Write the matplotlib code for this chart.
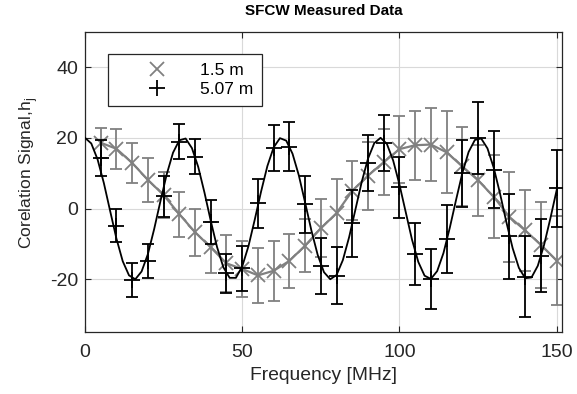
import numpy as np
import matplotlib
matplotlib.use("Agg")
import matplotlib.pyplot as plt

plt.rcParams["font.family"] = ["Liberation Sans", "DejaVu Sans"]
plt.rcParams["axes.unicode_minus"] = False

# measurement frequencies [MHz]
freq = [5, 10, 15, 20, 25, 30, 35, 40, 45, 50, 55, 60, 65, 70, 75,
        80, 85, 90, 95, 100, 105, 110, 115, 120, 125, 130, 135, 140, 145, 150]

# 1.5 m target
h_15 = [18.6, 16.9, 12.9, 8.1, 3.8, -1.6, -6.7, -11.0, -15.5, -17.1,
        -18.9, -17.6, -14.8, -10.5, -5.6, -1.3, 5.0, 9.3, 13.1, 16.8,
        17.9, 18.1, 15.9, 11.9, 8.0, 3.3, -2.4, -6.2, -10.3, -14.7]
err_15 = [4.3, 5.7, 5.7, 6.2, 6.4, 6.4, 6.6, 7.2, 8.0, 8.0,
          7.8, 8.5, 7.7, 7.4, 8.2, 9.6, 8.3, 9.6, 9.3, 9.5,
          9.8, 10.2, 11.6, 11.2, 10.0, 11.7, 12.7, 11.4, 12.2, 12.5]

# 5.07 m target
h_507 = [14.3, -4.8, -20.2, -14.8, 3.5, 18.9, 14.7, -3.8, -18.3, -16.9,
         1.5, 17.2, 17.5, 1.2, -16.2, -19.0, -4.2, 12.9, 18.5, 6.0,
         -12.8, -20.0, -8.6, 10.0, 20.0, 11.0, -7.9, -19.3, -13.4, 5.7]
err_507 = [5.0, 4.7, 4.7, 4.8, 5.8, 5.0, 5.0, 6.2, 5.5, 6.3,
           6.9, 6.5, 7.0, 8.0, 8.0, 8.0, 9.4, 8.0, 8.0, 8.7,
           8.8, 8.5, 9.5, 9.5, 10.2, 10.8, 11.9, 11.5, 10.3, 10.8]

# theoretical curve for 5.07 m (every 2 MHz)
f_model = list(range(0, 151, 2))
h_model = [20.0, 18.4, 13.9, 7.2, -0.7, -8.5, -14.9, -18.9, -20.0, -17.8,
           -12.9, -5.8, 2.1, 9.7, 15.8, 19.3, 19.8, 17.1, 11.8, 4.5,
           -3.5, -10.9, -16.6, -19.6, -19.6, -16.4, -10.6, -3.1, 4.8, 12.0,
           17.3, 19.9, 19.2, 15.5, 9.4, 1.7, -6.2, -13.1, -18.0, -20.0,
           -18.8, -14.6, -8.1, -0.3, 7.5, 14.1, 18.5, 20.0, 18.3, 13.6,
           6.8, -1.0, -8.8, -15.1, -19.0, -19.9, -17.7, -12.6, -5.5, 2.4,
           10.0, 16.0, 19.4, 19.8, 17.0, 11.5, 4.2, -3.8, -11.2, -16.8,
           -19.7, -19.5, -16.2, -10.3, -2.8, 5.2]

gray = (0.5, 0.5, 0.5)
dark = (0.15, 0.15, 0.15)

fig = plt.figure(figsize=(5.77, 3.94), dpi=100)
ax = fig.add_axes([0.1473, 0.1566, 0.8267, 0.7629])

# 1.5 m
ax.errorbar(freq, h_15, yerr=err_15, fmt="-x", color=gray, ecolor=gray,
            lw=1.6, elinewidth=1.3, capsize=4.5, capthick=1.3,
            markersize=10, mew=1.3, zorder=2)
# 5.07 m
ax.plot(f_model, h_model, "-", color="k", lw=1.3, zorder=3)
ax.errorbar(freq, h_507, yerr=err_507, fmt="+", color="k", ecolor="k",
            elinewidth=1.3, capsize=4.5, capthick=1.3,
            markersize=12, mew=1.3, zorder=4)

# legend handles (markers only)
h1, = ax.plot([], [], "x", color=gray, markersize=10, mew=1.3)
h2, = ax.plot([], [], "+", color="k", markersize=12, mew=1.3)
leg = ax.legend([h1, h2], ["1.5 m", "5.07 m"], loc="upper left",
                bbox_to_anchor=(0.048, 0.926), borderaxespad=0,
                fontsize=12.5, numpoints=1,
                handlelength=4.7, handletextpad=0.1, borderpad=0.5,
                labelspacing=0.25, fancybox=False, framealpha=1,
                edgecolor=dark)
leg.get_frame().set_linewidth(0.9)

ax.set_xlim(0, 151.7)
ax.set_ylim(-35, 50)
ax.set_xticks([0, 50, 100, 150])
ax.set_yticks([-20, 0, 20, 40])
ax.grid(True, color=(0.85, 0.85, 0.85), lw=0.8)
ax.set_axisbelow(True)
ax.tick_params(direction="in", top=True, right=True, length=4,
               labelsize=14, colors=dark, width=0.8)
ax.tick_params(axis="x", pad=8.5)
ax.tick_params(axis="y", pad=5)
for s in ax.spines.values():
    s.set_color(dark)
    s.set_linewidth(0.9)

ax.set_title("SFCW Measured Data", fontsize=11, fontweight="bold", pad=12)
ax.set_xlabel("Frequency [MHz]", fontsize=13.9, color=dark)
ax.set_ylabel(r"Corelation Signal,h$_\mathregular{j}$", fontsize=12.6,
              color=dark)
ax.yaxis.set_label_coords(-0.094, 0.53)

fig.savefig("out.png", dpi=100)
